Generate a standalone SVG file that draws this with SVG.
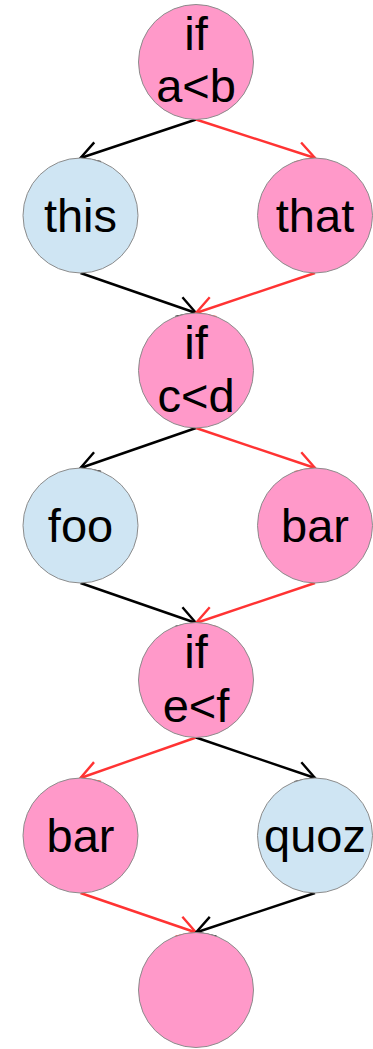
<svg xmlns="http://www.w3.org/2000/svg" width="373" height="1049" viewBox="0 0 373 1049">
<style>
.pink{fill:#ff99c9;stroke:#8c8c8c;stroke-width:1}
.blue{fill:#cfe5f3;stroke:#8c8c8c;stroke-width:1}
text{font-family:"Liberation Sans",Arial,sans-serif;font-size:47px;fill:#000;text-anchor:middle}
.k{stroke:#000;stroke-width:2.4;fill:none;marker-end:url(#ak)}
.r{stroke:#ff3333;stroke-width:2.4;fill:none;marker-end:url(#ar)}
</style>
<defs>
<marker id="ak" markerUnits="userSpaceOnUse" markerWidth="40" markerHeight="40" refX="0" refY="0" viewBox="-20 -20 40 40" orient="auto" overflow="visible">
<path d="M-18,-10.5 L0,0 L-18,10.5" fill="none" stroke="#000" stroke-width="2.4"/>
</marker>
<marker id="ar" markerUnits="userSpaceOnUse" markerWidth="40" markerHeight="40" refX="0" refY="0" viewBox="-20 -20 40 40" orient="auto" overflow="visible">
<path d="M-18,-10.5 L0,0 L-18,10.5" fill="none" stroke="#ff3333" stroke-width="2.4"/>
</marker>
</defs>
<g id="connectors">
<line class="k" x1="196" y1="119.5" x2="80.5" y2="158"/>
<line class="r" x1="196" y1="119.5" x2="315" y2="158"/>
<line class="k" x1="80.5" y1="273" x2="196" y2="313"/>
<line class="r" x1="315" y1="273" x2="196" y2="313"/>
<line class="k" x1="196" y1="428" x2="80.5" y2="468"/>
<line class="r" x1="196" y1="428" x2="315" y2="468"/>
<line class="k" x1="80.5" y1="583" x2="196" y2="623"/>
<line class="r" x1="315" y1="583" x2="196" y2="623"/>
<line class="r" x1="196" y1="737.5" x2="80.5" y2="778"/>
<line class="k" x1="196" y1="737.5" x2="315" y2="778"/>
<line class="r" x1="80.5" y1="893" x2="196" y2="932.5"/>
<line class="k" x1="315" y1="893" x2="196" y2="932.5"/>
</g>
<g id="if1"><circle class="pink" cx="196" cy="62" r="57.5"/><text x="196" y="50">if</text><text x="196" y="102">a&lt;b</text></g>
<g id="this"><circle class="blue" cx="80.5" cy="215.5" r="57.5"/><text x="80.5" y="232">this</text></g>
<g id="that"><circle class="pink" cx="315" cy="215.5" r="57.5"/><text x="315" y="232">that</text></g>
<g id="if2"><circle class="pink" cx="196" cy="370.5" r="57.5"/><text x="196" y="359">if</text><text x="196" y="412">c&lt;d</text></g>
<g id="foo"><circle class="blue" cx="80.5" cy="525.5" r="57.5"/><text x="80.5" y="542">foo</text></g>
<g id="bar1"><circle class="pink" cx="315" cy="525.5" r="57.5"/><text x="315" y="542">bar</text></g>
<g id="if3"><circle class="pink" cx="196" cy="680" r="57.5"/><text x="196" y="668">if</text><text x="196" y="722">e&lt;f</text></g>
<g id="bar2"><circle class="pink" cx="80.5" cy="835.5" r="57.5"/><text x="80.5" y="852">bar</text></g>
<g id="quoz"><circle class="blue" cx="315" cy="835.5" r="57.5"/><text x="315" y="852">quoz</text></g>
<g id="end"><circle class="pink" cx="196" cy="990" r="57.5"/></g>
</svg>
